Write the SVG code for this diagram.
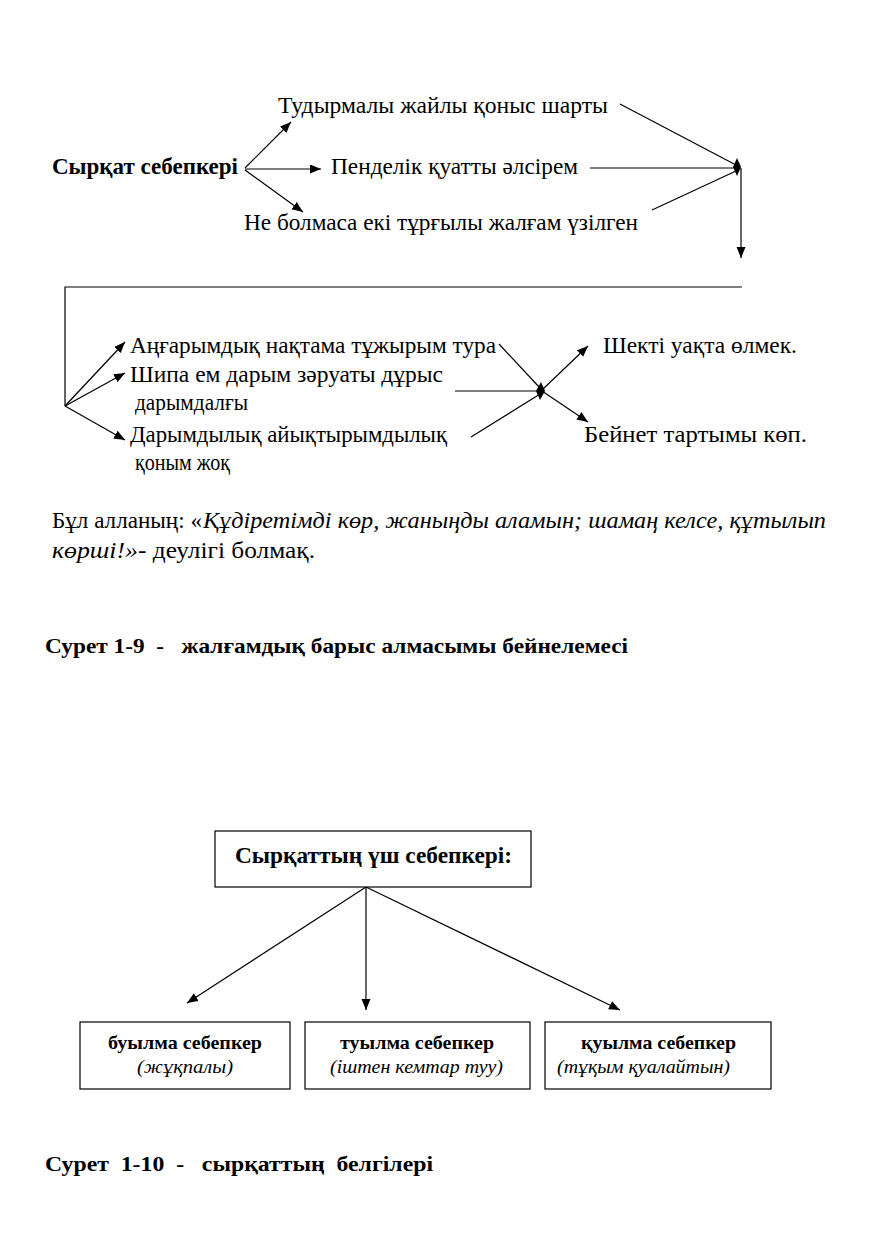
<svg xmlns="http://www.w3.org/2000/svg" width="884" height="1234" viewBox="0 0 884 1234">
<style>
.t{font-family:"Liberation Serif","Times New Roman",serif;font-size:23px;fill:#000}
.b{font-weight:bold}
.i{font-style:italic}
.s{font-size:19px}
.c{font-size:22px}
.ln{stroke:#000;stroke-width:1.2;fill:none}
.ar{stroke:#000;stroke-width:1.2;fill:none;marker-end:url(#ah)}
.bx{fill:#fff;stroke:#000;stroke-width:1.2}
.dm{fill:#000}
</style>
<defs>
<marker id="ah" markerUnits="userSpaceOnUse" markerWidth="12" markerHeight="10" refX="11" refY="4.5" orient="auto">
<path d="M0,0 L11,4.5 L0,9 z" fill="#000"/>
</marker>
</defs>
<rect width="884" height="1234" fill="#fff"/>

<g id="connectors">
<line class="ar" x1="245" y1="168" x2="291" y2="122"/>
<line class="ar" x1="245" y1="169" x2="321" y2="169"/>
<line class="ar" x1="245" y1="170" x2="303" y2="212"/>
<line class="ln" x1="620" y1="104" x2="736" y2="165"/>
<line class="ln" x1="590" y1="168" x2="736" y2="168"/>
<line class="ln" x1="652" y1="210" x2="736" y2="171"/>
<polygon class="dm" points="737,158 741,167 737,176 733,167"/>
<line class="ar" x1="741" y1="168" x2="741" y2="258"/>
<polyline class="ln" points="742,287 65,287 65,406"/>
<line class="ar" x1="65" y1="406" x2="125" y2="342"/>
<line class="ar" x1="65" y1="406" x2="125" y2="373"/>
<line class="ar" x1="65" y1="406" x2="125" y2="440"/>
<line class="ln" x1="499" y1="344" x2="540" y2="388"/>
<line class="ln" x1="455" y1="391" x2="540" y2="391"/>
<line class="ln" x1="471" y1="437" x2="540" y2="394"/>
<polygon class="dm" points="541,382 545,391 540,400 536,391"/>
<line class="ar" x1="542" y1="390" x2="588" y2="346"/>
<line class="ar" x1="542" y1="391" x2="588" y2="422"/>
<line class="ar" x1="366" y1="887" x2="187" y2="1003"/>
<line class="ar" x1="366" y1="887" x2="366" y2="1010"/>
<line class="ar" x1="366" y1="887" x2="620" y2="1010"/>
</g>

<g id="n-cause"><text class="t b" x="52" y="174" textLength="186" lengthAdjust="spacingAndGlyphs">Сырқат себепкері</text></g>
<g id="n-tudyrmaly"><text class="t" x="278" y="113" textLength="330" lengthAdjust="spacingAndGlyphs">Тудырмалы жайлы қоныс шарты</text></g>
<g id="n-pendelik"><text class="t" x="331" y="174" textLength="247" lengthAdjust="spacingAndGlyphs">Пенделік қуатты әлсірем</text></g>
<g id="n-ne-bolmasa"><text class="t" x="244" y="230" textLength="394" lengthAdjust="spacingAndGlyphs">Не болмаса екі тұрғылы жалғам үзілген</text></g>

<g id="n-angarymdyk"><text class="t" x="130" y="353" textLength="366" lengthAdjust="spacingAndGlyphs">Аңғарымдық нақтама тұжырым тура</text></g>
<g id="n-shipa">
<text class="t" x="130" y="382" textLength="313" lengthAdjust="spacingAndGlyphs">Шипа ем дарым зәруаты дұрыс</text>
<text class="t" x="135" y="410" textLength="113" lengthAdjust="spacingAndGlyphs">дарымдалғы</text>
</g>
<g id="n-darymdylyk">
<text class="t" x="130" y="442" textLength="317" lengthAdjust="spacingAndGlyphs">Дарымдылық айықтырымдылық</text>
<text class="t" x="135" y="470" textLength="95" lengthAdjust="spacingAndGlyphs">қоным жоқ</text>
</g>
<g id="n-shekti"><text class="t" x="603" y="353" textLength="194" lengthAdjust="spacingAndGlyphs">Шекті уақта өлмек.</text></g>
<g id="n-beinet"><text class="t" x="584" y="442" textLength="223" lengthAdjust="spacingAndGlyphs">Бейнет тартымы көп.</text></g>

<g id="paragraph">
<text class="t" x="52" y="528" textLength="150" lengthAdjust="spacingAndGlyphs">Бұл алланың: «</text>
<text class="t i" x="203" y="528" textLength="623" lengthAdjust="spacingAndGlyphs">Құдіретімді көр, жаныңды аламын; шамаң келсе, құтылып</text>
<text class="t i" x="52" y="558" textLength="86" lengthAdjust="spacingAndGlyphs">көрші!»</text>
<text class="t" x="138" y="558" textLength="177" lengthAdjust="spacingAndGlyphs">- деулігі болмақ.</text>
</g>

<g id="caption-1"><text class="t b c" x="45" y="653" textLength="583" lengthAdjust="spacingAndGlyphs" xml:space="preserve">Сурет 1-9  -   жалғамдық барыс алмасымы бейнелемесі</text></g>

<g id="n-root">
<rect class="bx" x="215" y="831" width="316" height="56"/>
<text class="t b" x="235" y="863" textLength="277" lengthAdjust="spacingAndGlyphs">Сырқаттың үш себепкері:</text>
</g>
<g id="n-buylma">
<rect class="bx" x="80" y="1022" width="210" height="67"/>
<text class="t b s" x="108" y="1049" textLength="154" lengthAdjust="spacingAndGlyphs">буылма себепкер</text>
<text class="t i s" x="137" y="1073" textLength="96" lengthAdjust="spacingAndGlyphs">(жұқпалы)</text>
</g>
<g id="n-tuylma">
<rect class="bx" x="305" y="1022" width="225" height="67"/>
<text class="t b s" x="340" y="1049" textLength="154" lengthAdjust="spacingAndGlyphs">туылма себепкер</text>
<text class="t i s" x="330" y="1073" textLength="173" lengthAdjust="spacingAndGlyphs">(іштен кемтар туу)</text>
</g>
<g id="n-kuylma">
<rect class="bx" x="545" y="1022" width="226" height="67"/>
<text class="t b s" x="581" y="1049" textLength="155" lengthAdjust="spacingAndGlyphs">қуылма себепкер</text>
<text class="t i s" x="557" y="1073" textLength="173" lengthAdjust="spacingAndGlyphs">(тұқым қуалайтын)</text>
</g>

<g id="caption-2"><text class="t b c" x="45" y="1171" textLength="388" lengthAdjust="spacingAndGlyphs" xml:space="preserve">Сурет  1-10  -   сырқаттың  белгілері</text></g>
</svg>
